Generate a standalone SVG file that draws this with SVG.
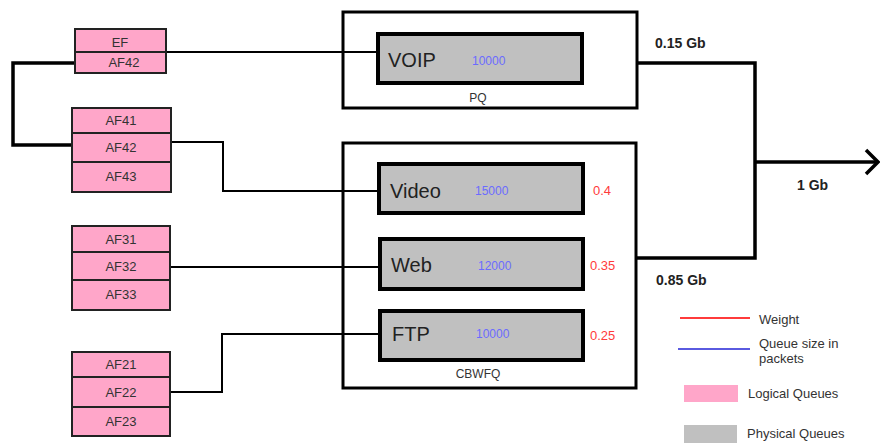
<svg xmlns="http://www.w3.org/2000/svg" width="880" height="443" viewBox="0 0 880 443">
<style>
.lq{fill:#ffa6c9;stroke:#222;stroke-width:2}
.pq{fill:#c0c0c0;stroke:#000;stroke-width:4}
.grp{fill:none;stroke:#000;stroke-width:3}
.wire{fill:none;stroke:#000;stroke-width:2}
.thick{fill:none;stroke:#000;stroke-width:3.5}
text{font-family:"Liberation Sans",Arial,sans-serif}
.lt{font-size:13px;fill:#333;text-anchor:middle}
.qn{font-size:20px;fill:#222}
.sz{font-size:12px;fill:#6b6bff}
.wt{font-size:13px;fill:#ff3b3b}
.bw{font-size:14px;fill:#222;font-weight:bold}
.lg{font-size:13px;fill:#333}
.cap{font-size:12px;fill:#333;text-anchor:middle}
</style>

<g id="pq">
<rect class="grp" x="343" y="12" width="294" height="96"/>
<text class="cap" x="478" y="102">PQ</text>
</g>
<g id="cbwfq">
<rect class="grp" x="343" y="143" width="293" height="245"/>
<text class="cap" x="478" y="378">CBWFQ</text>
</g>

<g id="connectors">
<path class="wire" d="M166,52 H378"/>
<path class="thick" d="M93,63 H13 V145 H72"/>
<path class="wire" d="M171,142 H223 V191 H379"/>
<path class="wire" d="M170,267 H379"/>
<path class="wire" d="M170,392 H222 V334 H379"/>
<path class="thick" d="M637,63 H755 V258 H636"/>
<path class="thick" d="M755,162 H876"/>
<path d="M866,150 L878,162 L866,174" fill="none" stroke="#000" stroke-width="3.5"/>
</g>

<g id="ef-group">
<rect class="lq" x="75" y="29" width="91" height="23"/>
<rect class="lq" x="75" y="52" width="91" height="21"/>
<text class="lt" x="120" y="47">EF</text>
<text class="lt" x="124" y="67">AF42</text>
</g>

<g id="af4-group">
<rect class="lq" x="72" y="108" width="99" height="25"/>
<rect class="lq" x="72" y="133" width="99" height="29"/>
<rect class="lq" x="72" y="162" width="99" height="30"/>
<text class="lt" x="121" y="125">AF41</text>
<text class="lt" x="121" y="152">AF42</text>
<text class="lt" x="121" y="181">AF43</text>
</g>

<g id="af3-group">
<rect class="lq" x="72" y="226" width="98" height="26"/>
<rect class="lq" x="72" y="252" width="98" height="28"/>
<rect class="lq" x="72" y="280" width="98" height="30"/>
<text class="lt" x="121" y="244">AF31</text>
<text class="lt" x="121" y="271">AF32</text>
<text class="lt" x="121" y="299">AF33</text>
</g>

<g id="af2-group">
<rect class="lq" x="72" y="352" width="98" height="25"/>
<rect class="lq" x="72" y="377" width="98" height="30"/>
<rect class="lq" x="72" y="407" width="98" height="29"/>
<text class="lt" x="121" y="369">AF21</text>
<text class="lt" x="121" y="397">AF22</text>
<text class="lt" x="121" y="426">AF23</text>
</g>

<g id="voip">
<rect class="pq" x="378" y="34" width="204" height="49"/>
<text class="qn" x="388" y="67">VOIP</text>
<text class="sz" x="472" y="65">10000</text>
</g>
<g id="video">
<rect class="pq" x="379" y="164" width="204" height="49"/>
<text class="qn" x="390" y="198">Video</text>
<text class="sz" x="475" y="195">15000</text>
<text class="wt" x="593" y="195">0.4</text>
</g>
<g id="web">
<rect class="pq" x="380" y="239" width="203" height="50"/>
<text class="qn" x="391" y="272">Web</text>
<text class="sz" x="478" y="270">12000</text>
<text class="wt" x="590" y="270">0.35</text>
</g>
<g id="ftp">
<rect class="pq" x="380" y="311" width="203" height="49"/>
<text class="qn" x="392" y="341">FTP</text>
<text class="sz" x="476" y="338">10000</text>
<text class="wt" x="590" y="340">0.25</text>
</g>

<g id="bandwidth-labels">
<text class="bw" x="655" y="48">0.15 Gb</text>
<text class="bw" x="797" y="190">1 Gb</text>
<text class="bw" x="656" y="285">0.85 Gb</text>
</g>

<g id="legend">
<line x1="680" y1="318" x2="750" y2="318" stroke="#ff3b3b" stroke-width="2"/>
<text class="lg" x="759" y="324">Weight</text>
<line x1="678" y1="349" x2="750" y2="349" stroke="#5a5ae0" stroke-width="2"/>
<text class="lg" x="759" y="348">Queue size in</text>
<text class="lg" x="759" y="363">packets</text>
<rect x="684" y="385" width="54" height="17" fill="#ffa6c9"/>
<text class="lg" x="748" y="398">Logical Queues</text>
<rect x="684" y="425" width="53" height="18" fill="#c0c0c0"/>
<text class="lg" x="747" y="438">Physical Queues</text>
</g>
</svg>
